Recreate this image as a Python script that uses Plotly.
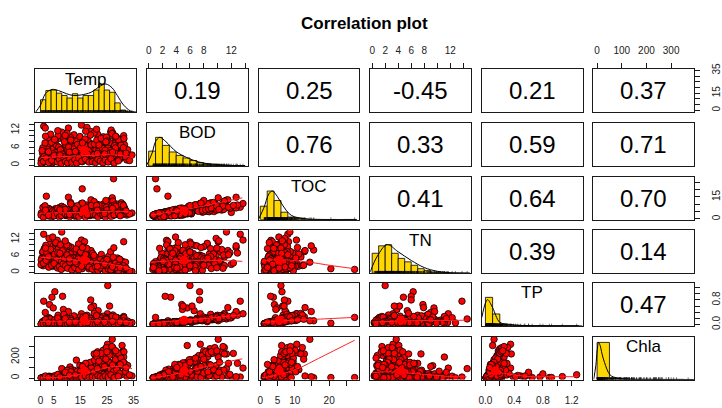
import plotly.graph_objects as go

W, H = 722, 408
variables = ["Temp", "BOD", "TOC", "TN", "TP", "Chla"]

# ---- observations (read/estimated from the scatter panels) ----
temp = [0.5, 1.2, 1.8, 2.5, 3.0, 3.4, 3.9, 1.0, 2.2, 3.6,
        4.3, 4.8, 5.4, 5.9, 6.3, 6.8, 7.2, 7.7, 4.5, 6.0,
        8.0, 8.3, 8.6, 9.2, 9.7, 10.3, 10.8, 11.1, 11.6, 9.0,
        12.4, 12.9, 13.5, 14.0, 14.6, 15.0, 15.4, 15.7, 13.2, 14.8,
        16.2, 16.6, 17.1, 17.5, 18.0, 18.4, 18.9, 19.3, 19.8, 17.8,
        20.0, 20.4, 20.9, 21.3, 21.7, 22.2, 22.6, 23.0, 21.5, 22.9,
        23.4, 23.8, 24.2, 24.5, 24.9, 25.2, 25.6, 26.0, 24.0, 25.3,
        26.4, 26.8, 27.0, 27.3, 27.5, 27.6, 28.0, 28.4, 28.8, 26.6,
        29.2, 29.6, 30.0, 30.4, 30.7, 31.3, 31.8, 32.5, 34.4, 29.9,
        0.8, 2.0, 3.2, 5.0, 6.6, 7.4, 9.5, 10.5, 12.0, 13.8,
        20.6, 21.9, 23.2, 24.7, 26.2, 27.8, 29.0, 30.2, 31.0, 28.6,
        1.5, 4.0, 7.0, 11.5, 15.2, 18.6, 22.0, 25.8, 30.5, 19.0,
        2.8, 5.6, 8.8, 12.6, 16.0, 20.2, 23.6, 27.2, 31.6, 14.3,
        0.3, 1.4, 2.6, 3.3, 4.1, 4.9, 5.7, 0.9, 2.9, 5.2,
        0.6, 1.7, 2.4, 3.8, 4.6, 5.3, 6.1, 6.9, 7.5, 7.9,
        8.2, 9.0, 9.9, 10.6, 11.3, 12.1, 12.7, 13.4, 13.9, 10.0,
        14.3, 15.1, 15.9, 16.8, 17.4, 18.2, 18.8, 19.6, 16.4, 19.1,
        20.3, 20.8, 21.2, 21.8, 22.4, 22.8, 23.3, 23.7, 20.1, 22.0,
        24.3, 24.8, 25.4, 25.9, 26.3, 26.9, 27.4, 27.9, 25.0, 26.1,
        28.2, 28.7, 29.4, 29.8, 30.3, 30.9, 31.4, 32.0, 32.8, 33.5,
        0.2, 1.1, 2.1, 3.1, 4.2, 5.1, 6.4, 7.1, 7.8, 8.5,
        9.4, 10.2, 11.0, 11.8, 12.9, 13.6, 14.4, 15.5, 16.9, 18.3,
        19.5, 20.7, 21.6, 22.5, 23.5, 24.4, 25.5, 26.5, 27.7, 29.3,
        1.9, 6.5, 11.4, 17.0, 21.1, 24.6, 28.3, 31.2, 9.3, 15.8,
        3.0, 7.3, 10.9, 13.1, 17.7, 21.4, 24.1, 27.1, 30.0, 32.2]
bod = [2.1, 13.3, 12.7, 3.5, 1.5, 4.8, 6.2, 0.9, 2.8, 8.5,
       3.2, 5.6, 7.4, 1.8, 2.6, 4.4, 9.2, 3.8, 0.8, 6.8,
       11.3, 2.4, 4.9, 6.0, 1.4, 5.2, 3.3, 7.7, 4.2, 2.0,
       3.6, 6.5, 8.2, 2.2, 5.0, 4.0, 13.7, 1.2, 1.0, 9.8,
       4.5, 2.8, 6.8, 12.9, 3.1, 5.7, 7.4, 2.0, 4.7, 8.8,
       5.0, 3.8, 5.3, 2.5, 6.6, 4.1, 7.9, 1.6, 10.6, 5.9,
       3.4, 7.1, 4.6, 8.9, 2.3, 7.5, 5.5, 6.3, 1.3, 6.0,
       11.3, 4.0, 10.1, 5.2, 1.0, 3.0, 8.0, 2.6, 6.9, 12.0,
       4.8, 6.4, 2.2, 9.0, 5.6, 10.1, 3.5, 1.8, 3.5, 7.8,
       4.0, 6.6, 9.8, 2.9, 10.0, 5.1, 7.0, 12.7, 3.0, 1.7,
       2.9, 4.4, 6.1, 3.7, 5.0, 7.3, 2.5, 4.3, 8.4, 9.5,
       1.1, 2.0, 3.0, 2.6, 3.5, 1.5, 2.0, 3.0, 2.8, 11.5,
       7.0, 8.5, 9.0, 10.4, 8.0, 11.0, 9.7, 11.0, 7.0, 6.1,
       1.6, 3.0, 5.4, 2.2, 7.8, 1.2, 4.3, 6.0, 9.5, 3.6,
       5.0, 7.6, 1.9, 10.6, 3.9, 8.8, 2.3, 6.2, 5.3, 1.0,
       3.8, 8.0, 2.6, 6.2, 9.4, 1.8, 5.6, 3.1, 7.1, 10.9,
       2.4, 6.0, 3.7, 9.0, 1.6, 4.9, 10.3, 3.3, 5.4, 7.0,
       7.2, 2.2, 8.6, 4.8, 3.2, 9.2, 5.8, 2.9, 3.6, 6.9,
       5.1, 9.6, 2.7, 7.8, 4.2, 10.8, 3.3, 6.7, 8.3, 1.9,
       5.9, 3.9, 8.7, 2.4, 6.8, 4.5, 9.1, 2.9, 5.3, 1.6,
       0.7, 1.3, 2.5, 0.9, 1.7, 3.3, 1.1, 2.0, 0.6, 2.9,
       1.3, 0.8, 2.3, 1.0, 1.9, 0.7, 2.4, 1.4, 2.1, 1.1,
       1.2, 0.9, 2.0, 1.4, 0.8, 1.8, 1.1, 2.2, 0.7, 1.5,
       9.9, 11.8, 8.6, 11.6, 12.3, 8.0, 9.9, 6.0, 10.2, 7.6,
       4.6, 3.5, 4.5, 4.7, 3.9, 4.0, 3.9, 4.5, 3.8, 4.1]
toc = [2.5, 8.0, 7.5, 3.4, 2.0, 4.1, 4.6, 1.5, 15.5, 5.2,
       3.8, 4.9, 6.3, 2.6, 3.1, 4.0, 7.8, 3.6, 1.8, 5.8,
       8.6, 3.0, 4.5, 6.1, 2.2, 5.0, 3.9, 6.8, 4.4, 2.8,
       4.2, 6.0, 7.4, 3.2, 5.3, 4.6, 10.5, 20.5, 1.6, 9.0,
       5.1, 3.5, 6.5, 9.5, 3.8, 5.4, 7.0, 2.9, 4.9, 8.0,
       6.5, 4.5, 5.9, 3.3, 7.2, 4.8, 8.4, 2.4, 9.8, 6.1,
       4.0, 7.6, 5.2, 9.2, 3.0, 10.6, 6.4, 6.9, 2.1, 6.0,
       12.8, 4.6, 14.4, 5.8, 27.4, 3.6, 9.0, 3.2, 7.3, 4.4,
       5.5, 6.6, 3.0, 11.0, 6.2, 8.2, 4.1, 2.6, 4.0, 8.5,
       4.3, 5.6, 7.1, 3.0, 6.6, 4.7, 5.9, 14.8, 3.5, 2.5,
       3.6, 5.0, 6.3, 4.2, 5.6, 7.8, 3.3, 5.0, 9.9, 10.2,
       2.0, 2.8, 3.2, 3.0, 3.9, 2.2, 2.8, 3.5, 3.1, 13.0,
       6.2, 7.0, 7.7, 8.7, 7.9, 11.8, 10.1, 12.2, 7.6, 6.3,
       4.0, 2.1, 7.2, 4.5, 4.6, 3.5, 2.6, 7.8, 5.0, 5.9,
       2.6, 9.0, 4.1, 6.0, 5.4, 4.9, 4.5, 3.4, 7.0, 3.2,
       5.6, 4.9, 4.7, 3.8, 11.2, 4.1, 3.4, 5.6, 9.0, 6.5,
       4.7, 3.8, 6.0, 5.9, 3.9, 2.9, 6.8, 5.3, 3.6, 9.1,
       5.2, 4.6, 6.4, 7.5, 2.4, 7.1, 8.6, 4.9, 2.6, 9.4,
       3.6, 7.9, 5.0, 5.9, 6.6, 8.8, 2.3, 9.5, 6.2, 4.1,
       4.0, 6.5, 6.9, 4.6, 9.6, 3.1, 7.4, 5.4, 3.6, 3.3,
       2.6, 1.1, 4.2, 3.0, 1.4, 2.0, 3.4, 1.3, 2.3, 4.6,
       3.2, 2.6, 1.5, 2.9, 3.9, 2.2, 1.6, 3.6, 1.2, 3.0,
       3.3, 2.9, 1.4, 3.8, 2.7, 1.2, 3.5, 1.6, 2.8, 4.0,
       6.0, 7.2, 10.3, 8.0, 9.2, 12.6, 8.6, 9.1, 6.4, 10.8,
       2.4, 6.2, 3.0, 6.8, 2.7, 5.9, 3.6, 7.2, 2.1, 5.5]
tn = [5.2, 13.8, 9.0, 6.5, 3.1, 7.8, 4.2, 2.4, 8.1, 10.2,
      4.8, 9.5, 6.3, 3.0, 11.6, 5.5, 7.0, 8.8, 2.2, 4.0,
      14.6, 6.0, 3.8, 11.0, 2.8, 7.2, 4.5, 5.8, 9.1, 1.8,
      3.5, 6.8, 5.0, 2.6, 8.0, 4.4, 11.7, 1.35, 1.2, 6.2,
      5.5, 11.1, 3.9, 7.0, 2.1, 4.6, 6.0, 3.3, 1.7, 5.0,
      4.2, 0.6, 3.3, 2.0, 5.4, 1.4, 4.0, 2.7, 3.0, 6.5,
      2.4, 4.9, 1.6, 3.7, 0.9, 3.2, 5.8, 3.4, 2.0, 2.0,
      7.5, 1.8, 3.7, 0.7, 1.1, 8.9, 2.6, 1.3, 4.4, 2.9,
      1.5, 3.0, 0.8, 2.2, 4.1, 11.1, 1.2, 0.5, 0.3, 2.7,
      7.2, 9.8, 12.3, 5.6, 8.4, 3.4, 9.6, 9.6, 4.2, 2.9,
      3.8, 1.0, 2.3, 4.6, 3.1, 1.6, 5.2, 1.9, 3.5, 2.2,
      3.5, 4.0, 5.0, 6.5, 7.2, 2.5, 1.5, 1.2, 2.8, 7.9,
      6.0, 10.5, 8.6, 7.6, 9.3, 5.6, 4.3, 2.5, 1.0, 10.3,
      4.5, 8.6, 6.8, 3.6, 5.9, 2.7, 10.8, 7.5, 4.9, 6.1,
      3.0, 5.3, 7.0, 8.3, 12.8, 6.6, 4.6, 2.0, 10.0, 3.9,
      7.8, 5.0, 9.9, 3.1, 6.7, 5.4, 2.3, 8.5, 4.0, 6.3,
      4.9, 7.4, 3.0, 5.8, 8.7, 1.3, 4.2, 6.9, 2.5, 3.6,
      2.3, 5.1, 3.4, 0.9, 4.6, 2.1, 1.5, 3.9, 6.2, 2.8,
      1.9, 3.1, 4.3, 0.8, 2.7, 1.5, 5.5, 2.2, 4.7, 1.0,
      3.3, 1.1, 2.5, 4.8, 0.6, 2.0, 1.4, 3.7, 0.9, 0.4,
      2.8, 3.3, 4.4, 1.9, 2.6, 3.2, 1.6, 2.1, 1.1, 3.0,
      2.4, 1.5, 3.7, 0.9, 1.8, 3.2, 1.0, 2.2, 4.0, 1.9,
      1.2, 2.0, 0.7, 1.6, 2.4, 0.5, 1.3, 0.9, 1.8, 0.6,
      8.8, 7.1, 5.2, 6.4, 3.4, 2.6, 1.7, 2.4, 11.4, 9.0,
      5.7, 6.9, 4.9, 3.8, 4.4, 2.2, 3.0, 2.0, 1.8, 1.6]
tp = [0.03, 0.76, 0.39, 0.05, 0.02, 0.65, 0.06, 0.01, 0.12, 0.09,
      0.89, 0.54, 1.07, 0.03, 0.06, 0.08, 0.15, 0.05, 0.02, 0.11,
      0.18, 0.92, 0.49, 0.13, 0.04, 0.10, 0.06, 0.16, 0.08, 0.03,
      0.07, 0.12, 0.20, 0.04, 0.09, 0.06, 0.35, 0.04, 0.02, 0.24,
      0.10, 0.05, 0.14, 0.30, 0.07, 0.13, 0.80, 0.05, 0.11, 0.19,
      0.60, 0.08, 0.12, 0.04, 0.45, 0.09, 0.22, 0.03, 0.28, 0.13,
      0.06, 0.16, 0.08, 0.20, 0.05, 0.35, 0.11, 0.60, 0.04, 1.27,
      0.25, 0.07, 0.12, 0.09, 0.23, 0.05, 0.18, 0.04, 0.14, 0.22,
      0.08, 0.13, 0.05, 0.19, 0.10, 0.26, 0.07, 0.04, 0.06, 0.15,
      0.08, 0.11, 0.22, 0.04, 0.30, 0.07, 0.17, 0.42, 0.05, 0.03,
      0.06, 0.07, 0.15, 0.09, 0.11, 0.16, 0.05, 0.08, 0.21, 0.23,
      0.02, 0.03, 0.04, 0.05, 0.07, 0.04, 0.05, 0.06, 0.05, 0.55,
      0.20, 0.14, 0.33, 0.28, 0.24, 0.36, 0.27, 0.31, 0.13, 0.11,
      0.02, 0.05, 0.09, 0.03, 0.12, 0.02, 0.07, 0.10, 0.16, 0.06,
      0.07, 0.14, 0.03, 0.18, 0.05, 0.15, 0.04, 0.09, 0.08, 0.02,
      0.06, 0.15, 0.04, 0.10, 0.19, 0.03, 0.09, 0.05, 0.12, 0.21,
      0.05, 0.11, 0.07, 0.17, 0.03, 0.09, 0.20, 0.06, 0.10, 0.13,
      0.15, 0.04, 0.19, 0.09, 0.06, 0.21, 0.12, 0.05, 0.07, 0.14,
      0.10, 0.23, 0.05, 0.17, 0.08, 0.26, 0.06, 0.13, 0.19, 0.04,
      0.12, 0.07, 0.20, 0.05, 0.14, 0.09, 0.22, 0.06, 0.11, 0.03,
      0.01, 0.02, 0.04, 0.01, 0.03, 0.05, 0.02, 0.03, 0.01, 0.04,
      0.02, 0.01, 0.04, 0.02, 0.03, 0.01, 0.04, 0.02, 0.03, 0.02,
      0.02, 0.01, 0.03, 0.02, 0.01, 0.03, 0.02, 0.04, 0.01, 0.02,
      0.16, 0.21, 0.13, 0.26, 0.29, 0.17, 0.24, 0.12, 0.19, 0.15,
      0.06, 0.05, 0.07, 0.08, 0.06, 0.09, 0.07, 0.10, 0.08, 0.06]
chla = [2, 10, 8, 4, 1, 6, 12, 1, 3, 15,
        5, 9, 14, 3, 7, 11, 25, 8, 2, 18,
        90, 6, 20, 28, 3, 35, 12, 106, 22, 5,
        25, 60, 171, 14, 45, 38, 95, 5, 4, 120,
        55, 18, 90, 140, 30, 70, 40, 22, 65, 130,
        30, 48, 110, 30, 25, 75, 230, 12, 250, 140,
        65, 200, 95, 280, 20, 322, 150, 55, 15, 32,
        230, 90, 369, 120, 5, 40, 260, 35, 175, 13,
        110, 145, 28, 240, 310, 200, 60, 15, 20, 190,
        4, 7, 18, 3, 30, 9, 40, 13, 16, 10,
        85, 130, 175, 100, 145, 215, 75, 120, 255, 240,
        1, 2, 6, 8, 20, 15, 40, 50, 35, 20,
        12, 16, 42, 75, 118, 230, 265, 290, 140, 65,
        1, 3, 6, 2, 9, 1, 5, 4, 12, 7,
        3, 5, 2, 11, 4, 22, 5, 16, 10, 3,
        15, 48, 9, 30, 80, 7, 42, 18, 66, 75,
        18, 65, 35, 125, 10, 55, 150, 28, 70, 95,
        170, 25, 205, 95, 45, 235, 130, 35, 60, 160,
        115, 290, 40, 215, 85, 300, 60, 160, 250, 25,
        175, 80, 235, 45, 190, 115, 250, 60, 120, 30,
        1, 1, 2, 1, 2, 4, 3, 5, 2, 6,
        4, 3, 12, 6, 10, 5, 15, 8, 20, 12,
        10, 6, 22, 14, 5, 20, 11, 30, 4, 18,
        20, 35, 60, 140, 235, 180, 260, 150, 55, 110,
        5, 9, 25, 30, 60, 90, 110, 125, 130, 100]

# ---- correlations shown in the upper panels (row-major) ----
correlations = ["0.19", "0.25", "-0.45", "0.21", "0.37",
                "0.76", "0.33", "0.59", "0.71",
                "0.41", "0.64", "0.70",
                "0.39", "0.14",
                "0.47"]

# ---- histogram bars on the diagonal (scaled heights, bins start at 0) ----
hist_temp = [0.44, 0.76, 0.78, 0.67, 0.59, 0.50, 0.65, 0.50, 0.59, 0.59, 0.78, 0.99, 0.78, 0.70, 0.33, 0.08, 0.03, 0.01]
hist_bod = [0.52, 1.0, 0.72, 0.49, 0.37, 0.28, 0.19, 0.12, 0.07, 0.035, 0.023, 0.012, 0.012, 0.006]
hist_toc = [0.47, 1.0, 0.67, 0.26, 0.09, 0.05, 0.024, 0.012, 0.006, 0.006, 0.006, 0.0, 0.006, 0.006]
hist_tn = [0.70, 0.96, 1.0, 0.70, 0.52, 0.40, 0.28, 0.16, 0.10, 0.036, 0.024, 0.012, 0.006, 0.006, 0.006]
hist_tp = [1.0, 0.42, 0.06, 0.03, 0.02, 0.015, 0.01, 0.01, 0.005, 0.005, 0.005, 0.005, 0.005]
hist_chla = [1.3, 0.04, 0.02, 0.01, 0.01, 0.005, 0.01, 0.005]
hist_width = {"Temp": 2, "BOD": 1, "TOC": 2, "TN": 1, "TP": 0.1, "Chla": 50}

# ---- density curves (scaled) ----
dens_temp_x = [-1.9, 0, 1.85, 4.3, 6.8, 9.8, 12.3, 15.4, 19, 22.7, 24.6, 27, 28.9, 31.3, 33.8, 35.6]
dens_temp_y = [0, 0.25, 0.65, 0.80, 0.76, 0.65, 0.59, 0.61, 0.70, 0.93, 0.99, 0.85, 0.59, 0.25, 0.05, 0]
dens_bod_x = [-0.3, 0.5, 1.0, 1.6, 2.5, 4.0, 5.5, 6.5, 8.0, 10.0, 12.0, 14.0]
dens_bod_y = [0.02, 0.45, 0.85, 1.0, 0.85, 0.50, 0.30, 0.20, 0.10, 0.05, 0.02, 0.01]
dens_toc_x = [-0.5, 1.0, 2.5, 3.5, 5.0, 6.5, 9.0, 13.0, 16.0, 28.0]
dens_toc_y = [0.02, 0.40, 0.90, 1.0, 0.80, 0.50, 0.15, 0.03, 0.01, 0.0]
dens_tn_x = [-0.3, 0.8, 2.3, 4.0, 6.0, 8.0, 10.0, 12.0, 14.0, 15.0]
dens_tn_y = [0.05, 0.60, 1.0, 0.75, 0.45, 0.20, 0.07, 0.02, 0.005, 0.0]
dens_tp_x = [-0.05, 0.0, 0.03, 0.1, 0.2, 0.35, 0.6, 1.0, 1.35]
dens_tp_y = [0.3, 0.8, 0.92, 0.64, 0.13, 0.05, 0.01, 0.005, 0.0]
dens_chla_x = [-14, -5, 0, 6, 12, 20, 30, 53, 80, 120, 200, 300, 390]
dens_chla_y = [0.0, 0.5, 1.0, 1.3, 1.2, 0.9, 0.6, 0.16, 0.06, 0.02, 0.01, 0.005, 0.0]

# ---- smoothed (loess) fits: (x, y) ----
fit_bod_temp = ([0, 5, 10, 15, 20, 25, 30, 32.6, 35], [2.6, 2.8, 3.0, 3.2, 3.4, 3.6, 3.4, 3.0, 2.5])
fit_toc_temp = ([0, 10, 20, 30, 34.4], [4.0, 4.2, 4.8, 5.2, 4.5])
fit_toc_bod = ([0.3, 2, 4, 6, 8, 10, 12, 13.6], [2.5, 3.8, 5.3, 7.0, 8.8, 10.8, 12.8, 14.4])
fit_tn_temp = ([0, 5, 10, 15, 20, 25, 30, 34.4], [5.5, 5.2, 4.8, 4.3, 3.8, 3.2, 2.3, 1.1])
fit_tn_bod = ([0.3, 2, 4, 6, 8, 10, 12, 13.6], [3.6, 4.0, 4.3, 4.4, 4.4, 4.3, 4.2, 4.0])
fit_tn_toc = ([0.5, 3, 6, 9, 12, 16, 20, 27.4], [4.0, 4.5, 4.6, 4.4, 4.0, 3.4, 2.6, 1.35])
fit_tp_temp = ([0, 10, 20, 30, 34.4], [0.10, 0.11, 0.12, 0.11, 0.09])
fit_tp_bod = ([0.3, 3, 6, 9, 12, 13.6], [0.05, 0.10, 0.15, 0.21, 0.28, 0.32])
fit_tp_toc = ([0.5, 5, 10, 15, 20, 27.4], [0.06, 0.10, 0.14, 0.16, 0.19, 0.23])
fit_tp_tn = ([0, 3, 6, 9, 12, 14.5], [0.08, 0.10, 0.12, 0.13, 0.13, 0.14])
fit_chla_temp = ([0, 5, 10, 15, 20, 25, 30, 34.4], [2, 5, 15, 35, 65, 100, 110, 90])
fit_chla_bod = ([0.3, 2, 4, 6, 8, 10, 12, 13.6], [3, 15, 40, 70, 105, 135, 163, 183])
fit_chla_toc = ([0.5, 3, 6, 9, 12, 16, 20, 27.4], [3, 15, 40, 65, 105, 172, 238, 360])
fit_chla_tn = ([0, 2, 4, 6, 8, 10, 12, 14.5], [50, 60, 55, 45, 35, 25, 15, 12])
fit_chla_tp = ([0.01, 0.1, 0.2, 0.4, 0.6, 0.9, 1.29], [20, 45, 50, 30, 15, 13, 13])

data = {"Temp": temp, "BOD": bod, "TOC": toc, "TN": tn, "TP": tp, "Chla": chla}
hists = {"Temp": hist_temp, "BOD": hist_bod, "TOC": hist_toc, "TN": hist_tn, "TP": hist_tp, "Chla": hist_chla}
dens = {"Temp": (dens_temp_x, dens_temp_y), "BOD": (dens_bod_x, dens_bod_y), "TOC": (dens_toc_x, dens_toc_y),
        "TN": (dens_tn_x, dens_tn_y), "TP": (dens_tp_x, dens_tp_y), "Chla": (dens_chla_x, dens_chla_y)}
fits = {(1, 0): fit_bod_temp, (2, 0): fit_toc_temp, (2, 1): fit_toc_bod,
        (3, 0): fit_tn_temp, (3, 1): fit_tn_bod, (3, 2): fit_tn_toc,
        (4, 0): fit_tp_temp, (4, 1): fit_tp_bod, (4, 2): fit_tp_toc, (4, 3): fit_tp_tn,
        (5, 0): fit_chla_temp, (5, 1): fit_chla_bod, (5, 2): fit_chla_toc, (5, 3): fit_chla_tn, (5, 4): fit_chla_tp}

# ---- layout geometry (px) ----
lefts = [33, 147, 261, 375, 489, 603]
tops = [65, 120, 175, 230, 284, 339]
PW, PH = 103, 44
axis_range = {"Temp": [-1.95, 36.0], "BOD": [-0.25, 14.4], "TOC": [-0.5, 28.8],
              "TN": [-0.3, 15.2], "TP": [-0.05, 1.354], "Chla": [-14.7, 394]}
ticks = {
    "Temp": ([0, 5, 10, 15, 20, 25, 30, 35], ["0", "5", "", "15", "", "25", "", "35"]),
    "BOD": ([0, 2, 4, 6, 8, 10, 12, 14], ["0", "2", "4", "6", "8", "", "12", ""]),
    "TOC": ([0, 5, 10, 15, 20, 25], ["0", "5", "10", "", "20", ""]),
    "TN": ([0, 2, 4, 6, 8, 10, 12, 14], ["0", "2", "4", "6", "8", "", "12", ""]),
    "TP": ([0, 0.2, 0.4, 0.6, 0.8, 1.0, 1.2], ["0.0", "", "0.4", "", "0.8", "", "1.2"]),
    "Chla": ([0, 100, 200, 300], ["0", "100", "200", "300"]),
}
vticks = {
    "BOD": ([0, 2, 4, 6, 8, 10, 12, 14], ["0", "", "", "6", "", "", "12", ""]),
    "TN": ([0, 2, 4, 6, 8, 10, 12, 14], ["0", "", "", "6", "", "", "12", ""]),
    "Chla": ([0, 100, 200, 300], ["0", "", "200", ""]),
    "Temp": ([0, 5, 10, 15, 20, 25, 30, 35], ["0", "", "", "15", "", "", "", "35"]),
    "TOC": ([0, 5, 10, 15, 20, 25], ["0", "", "", "15", "", ""]),
    "TP": ([0, 0.2, 0.4, 0.6, 0.8, 1.0, 1.2], ["0.0", "", "", "", "0.8", "", ""]),
}

FONT = "Liberation Sans, Arial, sans-serif"
LINE = "#1a1a1a"
tickfont = dict(family=FONT, size=10, color="#222")

fig = go.Figure()
layout = dict(width=W, height=H, margin=dict(l=0, r=0, t=0, b=0),
              paper_bgcolor="white", plot_bgcolor="white", showlegend=False,
              annotations=[])


def ax_name(kind, k):
    return kind + ("" if k == 1 else str(k))


for i in range(6):
    for j in range(6):
        k = i * 6 + j + 1
        xv, yv = variables[j], variables[i]
        xa = dict(domain=[lefts[j] / W, (lefts[j] + PW) / W], anchor=ax_name("y", k),
                  range=axis_range[xv], showline=True, mirror=True, linecolor=LINE, linewidth=1,
                  showgrid=False, zeroline=False, ticks="", showticklabels=False, fixedrange=True)
        ya = dict(domain=[1 - (tops[i] + PH) / H, 1 - tops[i] / H], anchor=ax_name("x", k),
                  range=[0, 1.5] if i == j else axis_range[yv], showline=True, mirror=True,
                  linecolor=LINE, linewidth=1, showgrid=False, zeroline=False, ticks="",
                  showticklabels=False, fixedrange=True)
        if i == 5 and j % 2 == 0:
            tv, tt = ticks[xv]
            xa.update(side="bottom", ticks="outside", ticklen=5, tickwidth=1, tickcolor=LINE,
                      showticklabels=True, tickvals=tv, ticktext=tt, tickfont=tickfont,
                      ticklabelstandoff=6)
        if i == 0 and j % 2 == 1:
            tv, tt = ticks[xv]
            xa.update(side="top", ticks="outside", ticklen=5, tickwidth=1, tickcolor=LINE,
                      showticklabels=True, tickvals=tv, ticktext=tt, tickfont=tickfont,
                      ticklabelstandoff=5)
        if j == 0 and i % 2 == 1:
            tv, tt = vticks[yv]
            ya.update(side="left", ticks="outside", ticklen=5, tickwidth=1, tickcolor=LINE,
                      showticklabels=True, tickvals=tv, ticktext=tt, tickfont=tickfont,
                      tickangle=-90, ticklabelstandoff=6)
        if j == 5 and i % 2 == 0:
            tv, tt = vticks[yv]
            ya.update(side="right", ticks="outside", ticklen=5, tickwidth=1, tickcolor=LINE,
                      showticklabels=True, tickvals=tv, ticktext=tt, tickfont=tickfont,
                      tickangle=-90, ticklabelstandoff=8)
        layout[ax_name("xaxis", k)] = xa
        layout[ax_name("yaxis", k)] = ya
        xr, yr = ax_name("x", k), ax_name("y", k)

        cx = (lefts[j] + PW / 2) / W
        cy = 1 - (tops[i] + PH / 2) / H
        if i > j:
            xs, ys = data[xv], data[yv]
            fig.add_trace(go.Scatter(x=xs, y=ys, xaxis=xr, yaxis=yr, mode="markers",
                                     marker=dict(size=6.5, color="#FF0000",
                                                 line=dict(color="black", width=0.8)),
                                     hoverinfo="skip"))
            fx, fy = fits[(i, j)]
            fig.add_trace(go.Scatter(x=fx, y=fy, xaxis=xr, yaxis=yr, mode="lines",
                                     line=dict(color="#FF2020", width=1, shape="spline"),
                                     hoverinfo="skip"))
            mx = sum(xs) / len(xs)
            my = sum(ys) / len(ys)
            fig.add_trace(go.Scatter(x=[mx], y=[my], xaxis=xr, yaxis=yr, mode="markers",
                                     marker=dict(size=9, color="#FF0000"), hoverinfo="skip"))
        elif i == j:
            hv = hists[xv]
            bw = hist_width[xv]
            centers = [bw * (n + 0.5) for n in range(len(hv))]
            fig.add_trace(go.Bar(x=centers, y=hv, width=[bw] * len(hv), xaxis=xr, yaxis=yr,
                                 marker=dict(color="#FFD700", line=dict(color="black", width=0.8)),
                                 hoverinfo="skip"))
            dx, dy = dens[xv]
            fig.add_trace(go.Scatter(x=dx, y=dy, xaxis=xr, yaxis=yr, mode="lines",
                                     line=dict(color="black", width=1, shape="spline"),
                                     hoverinfo="skip"))
            fig.add_trace(go.Scatter(x=data[xv], y=[0.02] * len(data[xv]), xaxis=xr, yaxis=yr,
                                     mode="markers",
                                     marker=dict(symbol="line-ns", size=2.5,
                                                 line=dict(color="black", width=0.5)),
                                     hoverinfo="skip"))
            layout["annotations"].append(dict(
                x=cx, y=1 - (tops[i] + 10) / H, xref="paper", yref="paper", text=xv,
                showarrow=False, xanchor="center", yanchor="middle",
                font=dict(family=FONT, size=17, color="black")))
        else:
            fig.add_trace(go.Scatter(x=[0], y=[0], xaxis=xr, yaxis=yr, mode="markers",
                                     marker=dict(opacity=0), hoverinfo="skip"))
            idx = sum(5 - r for r in range(i)) + (j - i - 1)
            layout["annotations"].append(dict(
                x=cx, y=cy, xref="paper", yref="paper", text=correlations[idx],
                showarrow=False, xanchor="center", yanchor="middle",
                font=dict(family=FONT, size=24, color="black")))

layout["annotations"].append(dict(
    x=369.5 / W, y=1 - 18 / H, xref="paper", yref="paper", text="<b>Correlation plot</b>",
    showarrow=False, xanchor="center", yanchor="middle",
    font=dict(family=FONT, size=17, color="black")))
layout["bargap"] = 0

fig.update_layout(**layout)
fig.write_html("out.html", config={"displayModeBar": False, "staticPlot": True},
               post_script="document.body.style.margin='0px';")
